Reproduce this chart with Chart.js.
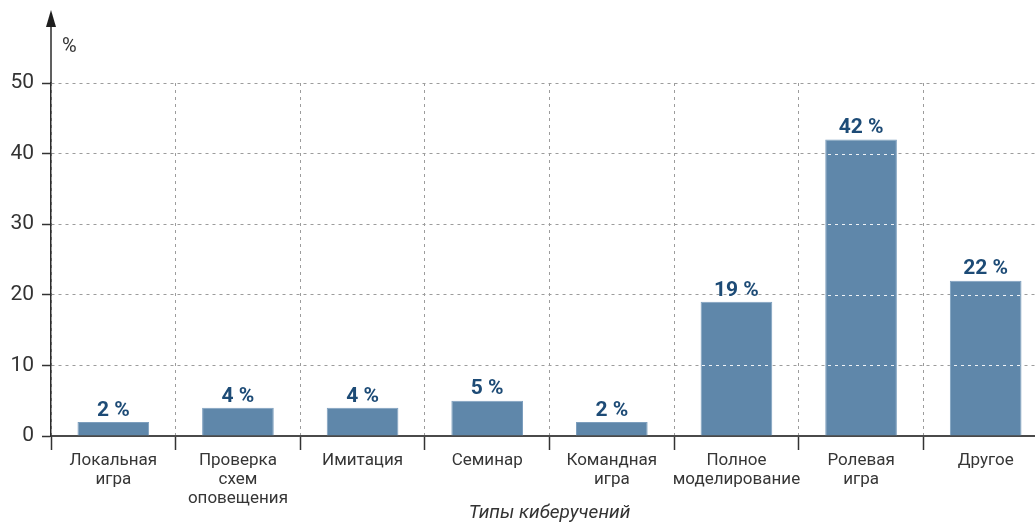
<!DOCTYPE html>
<html lang="ru">
<head>
  <meta charset="UTF-8">
  <title>Типы киберучений</title>
  <script src="https://cdn.jsdelivr.net/npm/chart.js"></script>
  <style>
    html, body {
      margin: 0;
      padding: 0;
      background: #ffffff;
      overflow: hidden;
    }
    #wrap {
      position: absolute;
      left: 0;
      top: 0;
      width: 1060px;
      height: 524px;
    }
  </style>
</head>
<body>
  <div id="wrap">
    <canvas id="cyberChart" width="1060" height="524"></canvas>
  </div>

  <script>
    // категории и доли, %
    const categories = [
      ['Локальная', 'игра'],
      ['Проверка', 'схем', 'оповещения'],
      ['Имитация'],
      ['Семинар'],
      ['Командная', 'игра'],
      ['Полное', 'моделирование'],
      ['Ролевая', 'игра'],
      ['Другое']
    ];
    const shares = [2, 4, 4, 5, 2, 19, 42, 22];
    const yTicks = [0, 10, 20, 30, 40, 50];

    const FONT = 'Roboto, "Noto Sans", sans-serif';
    const BAR = '#5f87aa';
    const GRID = '#9c9c9c';
    const DASH = [3, 4];

    // стрелка оси Y и знак %
    const axisArrow = {
      id: 'axisArrow',
      afterDraw(chart) {
        const { ctx, chartArea } = chart;
        const x = chartArea.left;
        const tip = chartArea.top - 73;
        ctx.save();
        ctx.strokeStyle = '#2b2b2b';
        ctx.lineWidth = 1.5;
        ctx.beginPath();
        ctx.moveTo(x, chartArea.top);
        ctx.lineTo(x, tip + 12);
        ctx.stroke();
        ctx.fillStyle = '#1e1e1e';
        ctx.beginPath();
        ctx.moveTo(x, tip);
        ctx.lineTo(x - 5, tip + 17);
        ctx.lineTo(x + 5, tip + 17);
        ctx.closePath();
        ctx.fill();
        ctx.font = '20px ' + FONT;
        ctx.fillStyle = '#333333';
        ctx.textAlign = 'left';
        ctx.textBaseline = 'middle';
        ctx.fillText('%', x + 11, chartArea.top - 36);
        ctx.restore();
      }
    };

    // белый пунктир сетки поверх столбцов + подписи значений
    const barExtras = {
      id: 'barExtras',
      afterDatasetsDraw(chart) {
        const { ctx, chartArea, scales } = chart;
        const meta = chart.getDatasetMeta(0);
        ctx.save();
        meta.data.forEach((bar, i) => {
          const half = bar.width / 2;
          ctx.save();
          ctx.beginPath();
          ctx.rect(bar.x - half, bar.y, bar.width, bar.base - bar.y);
          ctx.clip();
          ctx.strokeStyle = 'rgba(255,255,255,0.9)';
          ctx.lineWidth = 1;
          ctx.setLineDash(DASH);
          yTicks.slice(1).forEach(v => {
            const y = Math.round(scales.y.getPixelForValue(v)) + 0.5;
            ctx.beginPath();
            ctx.moveTo(chartArea.left, y);
            ctx.lineTo(chartArea.right, y);
            ctx.stroke();
          });
          ctx.restore();

          ctx.font = 'bold 21px ' + FONT;
          ctx.fillStyle = '#1d4b76';
          ctx.textAlign = 'center';
          ctx.textBaseline = 'bottom';
          ctx.fillText(shares[i] + ' %', bar.x, bar.y - 1);
        });
        ctx.restore();
      }
    };

    new Chart(document.getElementById('cyberChart'), {
      type: 'bar',
      data: {
        labels: categories,
        datasets: [{
          data: shares,
          backgroundColor: BAR,
          borderColor: '#7d9fbe',
          borderWidth: 1,
          categoryPercentage: 1,
          barPercentage: 0.575
        }]
      },
      options: {
        responsive: false,
        animation: false,
        events: [],
        layout: { padding: { top: 83, right: 12, left: 0, bottom: 0 } },
        plugins: {
          legend: { display: false },
          tooltip: { enabled: false }
        },
        scales: {
          x: {
            offset: true,
            grid: {
              offset: true,
              color: GRID,
              lineWidth: 1,
              tickLength: 14,
              tickColor: '#333333',
              tickWidth: 1.5
            },
            border: { color: '#4a4a4a', width: 2, dash: DASH },
            ticks: {
              padding: 1,
              maxRotation: 0,
              autoSkip: false,
              color: '#363636',
              font: { family: FONT, size: 17, lineHeight: 1.12 }
            },
            title: {
              display: true,
              text: 'Типы киберучений',
              color: '#333333',
              padding: { top: 0, bottom: 0 },
              font: { family: FONT, size: 19, style: 'italic', lineHeight: 1.15 }
            },
            afterFit(scale) { scale.height = 88; }
          },
          y: {
            min: 0,
            max: 50,
            afterBuildTicks(scale) {
              scale.ticks = yTicks.map(v => ({ value: v }));
            },
            grid: {
              color: GRID,
              lineWidth: 1,
              tickLength: 9,
              tickColor: '#333333',
              tickWidth: 1.5
            },
            border: { color: '#2b2b2b', width: 1.5, dash: DASH },
            ticks: {
              padding: 8,
              color: '#333333',
              font: { family: FONT, size: 21 }
            },
            afterFit(scale) { scale.width = 51; }
          }
        }
      },
      plugins: [axisArrow, barExtras]
    });
  </script>
</body>
</html>
